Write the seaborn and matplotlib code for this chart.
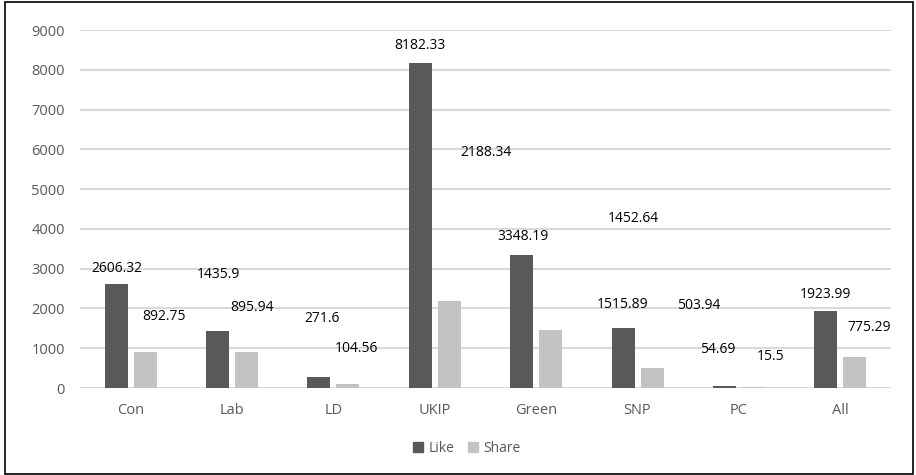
import matplotlib
matplotlib.use("Agg")
import matplotlib.pyplot as plt
import matplotlib.patches as mpatches
import seaborn as sns
import pandas as pd

categories = ["Con", "Lab", "LD", "UKIP", "Green", "SNP", "PC", "All"]
like_values = [2606.32, 1435.9, 271.6, 8182.33, 3348.19, 1515.89, 54.69, 1923.99]
share_values = [892.75, 895.94, 104.56, 2188.34, 1452.64, 503.94, 15.5, 775.29]
series_names = ["Like", "Share"]
y_ticks = [0, 1000, 2000, 3000, 4000, 5000, 6000, 7000, 8000, 9000]

# data-label texts, in the (displaced) order they appear in the reference
label_texts = ["2606.32", "892.75", "1435.9", "895.94", "271.6", "104.56",
               "8182.33", "2188.34", "3348.19", "1452.64", "1515.89", "503.94",
               "54.69", "15.5", "1923.99", "775.29"]
label_x = [-0.135, 0.328, 0.861, 1.196, 1.887, 2.232, 2.853, 3.504,
           3.869, 4.954, 4.855, 5.605, 5.792, 6.315, 6.857, 7.281]
label_y = [3015, 1810, 2860, 2035, 1735, 1000, 8600, 5930,
           3820, 4250, 2110, 2085, 980, 780, 2360, 1530]

df = pd.DataFrame({
    "Party": categories * 2,
    "Series": [series_names[0]] * len(categories) + [series_names[1]] * len(categories),
    "Value": like_values + share_values,
})

colors = {"Like": "#595959", "Share": "#C3C3C3"}

sns.set_theme(style="white")
plt.rcParams["font.family"] = ["Open Sans", "DejaVu Sans"]

fig = plt.figure(figsize=(9.16, 4.75), dpi=100)
ax = fig.add_axes([80 / 916, 1 - 388 / 475, (891 - 80) / 916, (388 - 30) / 475])

sns.barplot(data=df, x="Party", y="Value", hue="Series", order=categories,
            hue_order=series_names, palette=colors, width=0.574, gap=0.21,
            ax=ax, legend=False, linewidth=0, saturation=1)

ax.set_ylim(0, 9000)
ax.set_xlim(-0.5, len(categories) - 0.5)
ax.set_yticks(y_ticks)
ax.set_yticklabels([str(t) for t in y_ticks])
ax.yaxis.grid(True, color="#D9D9D9", linewidth=1.5)
ax.set_axisbelow(True)
for s in ["top", "right", "left", "bottom"]:
    ax.spines[s].set_visible(False)
ax.axhline(0, color="#D9D9D9", linewidth=1.5, zorder=0.5)
ax.set_xlabel("")
ax.set_ylabel("")
ax.tick_params(axis="y", length=0, pad=11, labelsize=10.5, labelcolor="#595959")
ax.tick_params(axis="x", length=0, pad=11, labelsize=10.5, labelcolor="#595959")

for t, x, y in zip(label_texts, label_x, label_y):
    ax.text(x, y, t, ha="center", va="center", fontsize=10, color="#000000")

handles = [mpatches.Patch(color=colors[n], label=n) for n in series_names]
leg = fig.legend(handles=handles, loc="center", bbox_to_anchor=(0.51, 1 - 448 / 475),
                 ncol=2, frameon=False, fontsize=10, handlelength=0.7, handleheight=0.7,
                 handletextpad=0.4, columnspacing=1.0)
for txt in leg.get_texts():
    txt.set_color("#595959")

border = mpatches.Rectangle((5 / 916, 1 / 475), 908 / 916, 472 / 475,
                            transform=fig.transFigure, fill=False,
                            edgecolor="black", linewidth=1.2)
fig.patches.append(border)

fig.savefig("out.png", dpi=100)
